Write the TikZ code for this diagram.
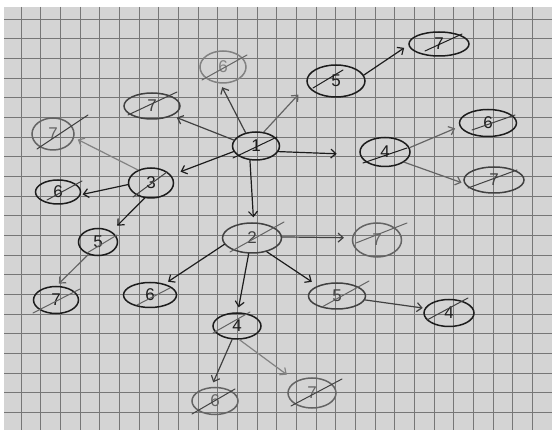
\documentclass[tikz,border=0pt]{standalone}
\usepackage{fontspec}
\setmainfont{Liberation Sans}
\usetikzlibrary{shapes.geometric,arrows.meta}
\definecolor{paper}{RGB}{212,212,212}
\definecolor{gridc}{RGB}{118,118,118}
\definecolor{inkA}{RGB}{28,28,28}
\definecolor{inkB}{RGB}{65,65,65}
\definecolor{inkC}{RGB}{100,100,100}
\definecolor{inkD}{RGB}{130,130,130}
\tikzset{
  hn/.style={ellipse, draw, inner sep=0pt, line width=1.5pt, font=\fontsize{17}{17}\selectfont},
  sl/.style={line width=1pt, line cap=round},
  arr/.style={-{Straight Barb[length=5pt,width=9pt]}, line width=1.2pt, line cap=round},
  gridline/.style={gridc, line width=1pt},
}
\begin{document}
\begin{tikzpicture}[x=1pt,y=-1pt]
\useasboundingbox (0,0) rectangle (552,430);
\fill[white] (0,0) rectangle (552,430);
\fill[paper] (4,7) rectangle (552,430);
\foreach \i in {0,...,26} \draw[gridline] ({int(21+19.68*\i)+0.5},7) -- ({int(21+19.68*\i)+0.5},430);
\foreach \j in {0,...,20} \draw[gridline] (4,{int(19+19.68*\j)+0.5}) -- (552,{int(19+19.68*\j)+0.5});

% nodes
\node[hn, inkA, minimum width=47pt, minimum height=28pt] (n1) at (256,146) {1};
\node[hn, inkB, minimum width=56pt, minimum height=26pt] (a7) at (152,106) {7};
\node[hn, inkD, minimum width=46pt, minimum height=32pt] (a6) at (223,67) {6};
\node[hn, inkA, minimum width=58pt, minimum height=32pt] (a5) at (336,81) {5};
\node[hn, inkA, minimum width=60pt, minimum height=24pt] (a57) at (439,44) {7};
\node[hn, inkA, minimum width=50pt, minimum height=29pt] (n4) at (385,152) {4};
\node[hn, inkA, minimum width=57pt, minimum height=27pt] (b6) at (488,123) {6};
\node[hn, inkB, minimum width=60pt, minimum height=26pt] (b7) at (494,180) {7};
\node[hn, inkC, minimum width=42pt, minimum height=32pt] (c7) at (53,134) {7};
\node[hn, inkA, minimum width=45pt, minimum height=30pt] (n3) at (151,183) {3};
\node[hn, inkA, minimum width=45pt, minimum height=24pt] (c6) at (58,192) {6};
\node[hn, inkA, minimum width=39pt, minimum height=27pt] (c5) at (98,242) {5};
\node[hn, inkA, minimum width=45pt, minimum height=27pt] (c57) at (56,300) {7};
\node[hn, inkB, minimum width=59pt, minimum height=30pt] (n2) at (252,238) {2};
\node[hn, inkC, minimum width=49pt, minimum height=34pt] (d7) at (377,240) {7};
\node[hn, inkA, minimum width=53pt, minimum height=25pt] (d6) at (150,295) {6};
\node[hn, inkB, minimum width=57pt, minimum height=26pt] (d5) at (337,296) {5};
\node[hn, inkA, minimum width=50pt, minimum height=27pt] (d4) at (449,313) {4};
\node[hn, inkA, minimum width=48pt, minimum height=26pt] (e4) at (237,326) {4};
\node[hn, inkC, minimum width=46pt, minimum height=27pt] (e6) at (215,401) {6};
\node[hn, inkC, minimum width=48pt, minimum height=30pt] (e7) at (312,393) {7};

% strike-through slashes
\draw[sl, inkA] ([shift={(-23,12)}]n1.center) -- ([shift={(21,-9)}]n1.center);
\draw[sl, inkB] ([shift={(-24,9)}]a7.center) -- ([shift={(25,-14)}]a7.center);
\draw[sl, inkC] ([shift={(-21,13)}]a6.center) -- ([shift={(24,-12)}]a6.center);
\draw[sl, inkA] ([shift={(-23,7)}]a5.center) -- ([shift={(7,-11)}]a5.center);
\draw[sl, inkA] ([shift={(-14,7)}]a57.center) -- ([shift={(23,-10)}]a57.center);
\draw[sl, inkA] ([shift={(-22,11)}]n4.center) -- ([shift={(22,-4)}]n4.center);
\draw[sl, inkB] ([shift={(-16,7)}]b6.center) -- ([shift={(27,-8)}]b6.center);
\draw[sl, inkB] ([shift={(-26,8)}]b7.center) -- ([shift={(23,-10)}]b7.center);
\draw[sl, inkB] ([shift={(-16,15)}]c7.center) -- ([shift={(35,-19)}]c7.center);
\draw[sl, inkB] ([shift={(-18,14)}]n3.center) -- ([shift={(16,-11)}]n3.center);
\draw[sl, inkB] ([shift={(-11,8)}]c6.center) -- ([shift={(24,-11)}]c6.center);
\draw[sl, inkC] ([shift={(-11,11)}]c5.center) -- ([shift={(19,-7)}]c5.center);
\draw[sl, inkC] ([shift={(-23,13)}]c57.center) -- ([shift={(24,-11)}]c57.center);
\draw[sl, inkC] ([shift={(-22,14)}]n2.center) -- ([shift={(32,-16)}]n2.center);
\draw[sl, inkC] ([shift={(-21,3)}]d7.center) -- ([shift={(30,-17)}]d7.center);
\draw[sl, inkC] ([shift={(-13,10)}]d6.center) -- ([shift={(20,-7)}]d6.center);
\draw[sl, inkC] ([shift={(-15,11)}]d5.center) -- ([shift={(32,-15)}]d5.center);
\draw[sl, inkB] ([shift={(-22,7)}]d4.center) -- ([shift={(19,-15)}]d4.center);
\draw[sl, inkC] ([shift={(-24,7)}]e4.center) -- ([shift={(13,-14)}]e4.center);
\draw[sl, inkB] ([shift={(-23,13)}]e6.center) -- ([shift={(20,-12)}]e6.center);
\draw[sl, inkB] ([shift={(-21,13)}]e7.center) -- ([shift={(30,-14)}]e7.center);

% connectors
\draw[arr, inkB, shorten >=5pt] (n1.165) -- (a7.334);
\draw[arr, inkB, shorten >=4pt] (n1.128) -- (a6.261);
\draw[arr, inkC, shorten >=13pt] (n1.61) -- (a5.188);
\draw[arr, inkA, shorten >=23pt] (n1.346) -- (n4.186);
\draw[arr, inkA, shorten >=10pt] (n1.194) -- (n3.21);
\draw[arr, inkA, shorten >=5pt] (n1.247) -- (n2.84);
\draw[arr, inkA, shorten >=5pt] (a5.12) -- (a57.182);
\draw[arr, inkC, shorten >=5pt] (n4.10) -- (b6.187);
\draw[arr, inkC, shorten >=3pt] (n4.332) -- (b7.187);
\draw[arr, inkD, shorten >=4pt] (n3.135) -- (c7.350);
\draw[arr, inkA, shorten >=2pt] (n3.184) -- (c6.353);
\draw[arr, inkA, shorten >=8pt] (n3.247) -- (c5.38);
\draw[arr, inkC, shorten >=3pt] (c5.232) -- (c57.87);
\draw[arr, inkB, shorten >=8pt] (n2.2) -- (d7.175);
\draw[arr, inkA, shorten >=4pt] (n2.193) -- (d6.37);
\draw[arr, inkA, shorten >=5pt] (n2.258) -- (e4.87);
\draw[arr, inkA, shorten >=7pt] (n2.317) -- (d5.152);
\draw[arr, inkB, shorten >=2pt] (d5.352) -- (d4.169);
\draw[arr, inkB, shorten >=5pt] (e4.250) -- (e6.105);
\draw[arr, inkD, shorten >=11pt] (e4.280) -- (e7.144);
\end{tikzpicture}
\end{document}
